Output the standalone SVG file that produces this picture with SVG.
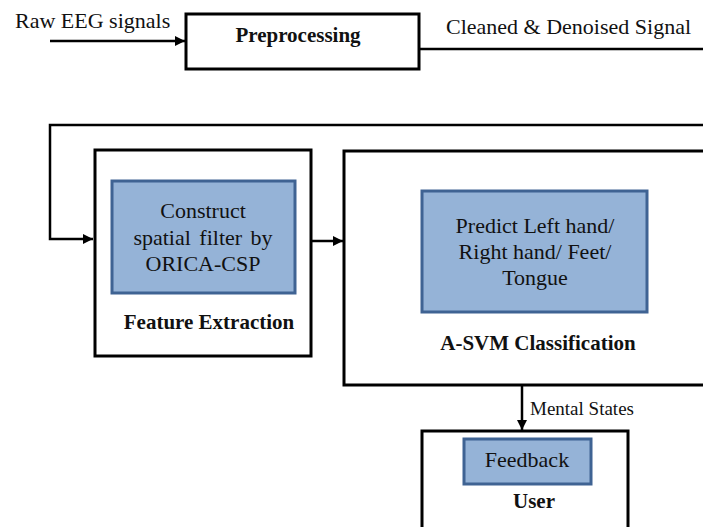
<svg xmlns="http://www.w3.org/2000/svg" width="703" height="527" viewBox="0 0 703 527">
<defs>
<style>
.box{fill:#fff;stroke:#000;stroke-width:3}
.inner{fill:#95b3d7;stroke:#3f6393;stroke-width:3}
.ln{fill:none;stroke:#000;stroke-width:2.5}
text{font-family:'Liberation Serif','Times New Roman','DejaVu Serif',serif;fill:#111}
.b{font-weight:bold;font-size:21px}
.m{font-size:22px;text-anchor:middle}
</style>
<marker id="ah" viewBox="0 0 10 10" refX="10" refY="5" markerWidth="10" markerHeight="10" markerUnits="userSpaceOnUse" orient="auto">
<path d="M0,0 L10,5 L0,10 z" fill="#000"/>
</marker>
</defs>
<rect width="703" height="527" fill="#fff"/>
<g id="connectors">
<line class="ln" x1="50" y1="41" x2="185" y2="41" marker-end="url(#ah)"/>
<line class="ln" x1="420" y1="49" x2="703" y2="49"/>
<polyline class="ln" points="703,125 50,125 50,239 93,239" marker-end="url(#ah)"/>
<line class="ln" x1="311" y1="241" x2="343" y2="241" marker-end="url(#ah)"/>
<line class="ln" x1="522" y1="385" x2="522" y2="430" marker-end="url(#ah)"/>
<text x="15" y="28" font-size="22">Raw EEG signals</text>
<text x="446" y="34" font-size="22">Cleaned &amp; Denoised Signal</text>
<text x="530" y="415" font-size="19">Mental States</text>
</g>
<g id="preprocessing">
<rect class="box" x="186" y="14" width="233" height="55"/>
<text class="b" x="298" y="42" text-anchor="middle">Preprocessing</text>
</g>
<g id="feature-extraction">
<rect class="box" x="95" y="150" width="216" height="206"/>
<rect class="inner" x="112" y="181" width="183" height="112"/>
<text class="m" x="203" y="218">Construct</text>
<text class="m" x="203" y="245" word-spacing="3">spatial filter by</text>
<text class="m" x="203" y="271">ORICA-CSP</text>
<text class="b" x="209" y="329" text-anchor="middle">Feature Extraction</text>
</g>
<g id="classification">
<rect class="box" x="344" y="151" width="380" height="234"/>
<rect class="inner" x="422" y="191" width="225" height="121"/>
<text class="m" x="535" y="233" font-size="22.5">Predict Left hand/</text>
<text class="m" x="535" y="259" font-size="22.5">Right hand/ Feet/</text>
<text class="m" x="535" y="285" font-size="22.5">Tongue</text>
<text class="b" x="538" y="350" text-anchor="middle">A-SVM Classification</text>
</g>
<g id="user">
<rect class="box" x="422" y="431" width="206" height="110"/>
<rect class="inner" x="464" y="439" width="127" height="45"/>
<text class="m" x="527" y="467">Feedback</text>
<text class="b" x="534" y="508" text-anchor="middle" font-size="20">User</text>
</g>
</svg>
